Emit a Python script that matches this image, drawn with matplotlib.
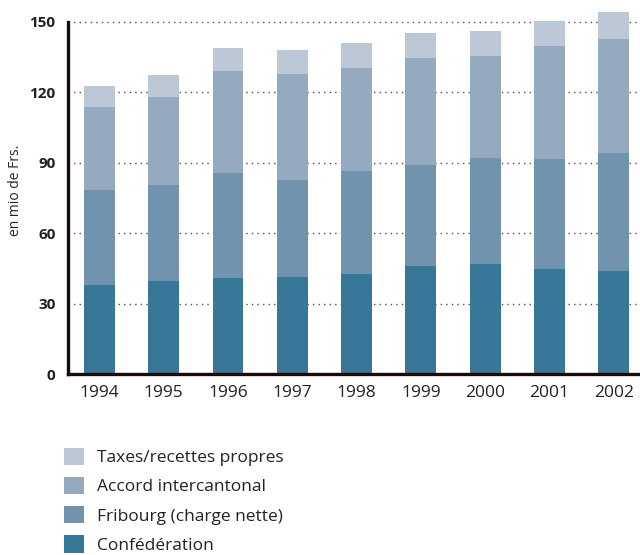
import matplotlib
matplotlib.use("Agg")
import matplotlib.pyplot as plt
from matplotlib.patches import Patch
import numpy as np

plt.rcParams['font.family'] = ['Open Sans', 'DejaVu Sans']

years = ["1994", "1995", "1996", "1997", "1998", "1999", "2000", "2001", "2002"]
# layer values (mio Frs.)
confederation = [37.8, 39.7, 41.0, 41.4, 42.7, 46.1, 47.0, 44.8, 44.0]
fribourg = [40.7, 40.9, 44.7, 41.3, 43.9, 43.0, 45.1, 46.9, 50.2]
accord = [35.3, 37.5, 43.5, 45.2, 43.8, 45.6, 43.4, 48.1, 48.6]
taxes = [9.0, 9.3, 9.7, 10.2, 10.7, 10.6, 10.7, 10.6, 11.5]

labels = ["Confédération", "Fribourg (charge nette)", "Accord intercantonal", "Taxes/recettes propres"]
colors = ["#377797", "#7193ae", "#95aac0", "#bcc8d6"]

fig = plt.figure(figsize=(6.4, 5.55), dpi=100)
ax = fig.add_axes([68 / 640, 181 / 555, 1 - 68 / 640, 364 / 555])

x = np.arange(len(years))
bottom = np.zeros(len(years))
handles = []
for vals, lab, col in zip([confederation, fribourg, accord, taxes], labels, colors):
    ax.bar(x, vals, width=0.48, bottom=bottom, color=col, zorder=2)
    bottom += np.array(vals)
    handles.append(Patch(facecolor=col, label=lab))

ax.set_xlim(-0.49, 8.41)
ax.set_ylim(0, 155)
ax.set_yticks([0, 30, 60, 90, 120, 150])
ax.set_xticks(x)
ax.set_xticklabels(years, fontsize=12.5, color="#222222")
for t in ax.get_yticklabels():
    t.set_fontweight("bold")
    t.set_fontsize(11)
    t.set_color("#222222")
ax.tick_params(length=0)
ax.tick_params(axis='y', pad=9)
ax.tick_params(axis='x', pad=8)

for yv in [30, 60, 90, 120, 150]:
    ax.axhline(yv, color="#5a4a4a", linestyle=(0, (1, 3)), linewidth=1.0, zorder=1)

for s in ["top", "right"]:
    ax.spines[s].set_visible(False)
ax.spines["left"].set_bounds(0, 150)
for s in ["left", "bottom"]:
    ax.spines[s].set_linewidth(2.4)
    ax.spines[s].set_color("#1a0a0a")
    ax.spines[s].set_zorder(3)

fig.text(16 / 640, 1 - 190 / 555, "en mio de Frs.", rotation=90, fontsize=10,
         va="center", ha="center", color="#222222")

fig.legend(handles=handles[::-1], loc="upper left",
           bbox_to_anchor=(55 / 640, 1 - 439 / 555), frameon=False,
           fontsize=12.5, handlelength=1.15, handleheight=1.15,
           handletextpad=0.75, labelspacing=0.62, borderpad=0,
           labelcolor="#222222")

fig.savefig("out.png", dpi=100)
